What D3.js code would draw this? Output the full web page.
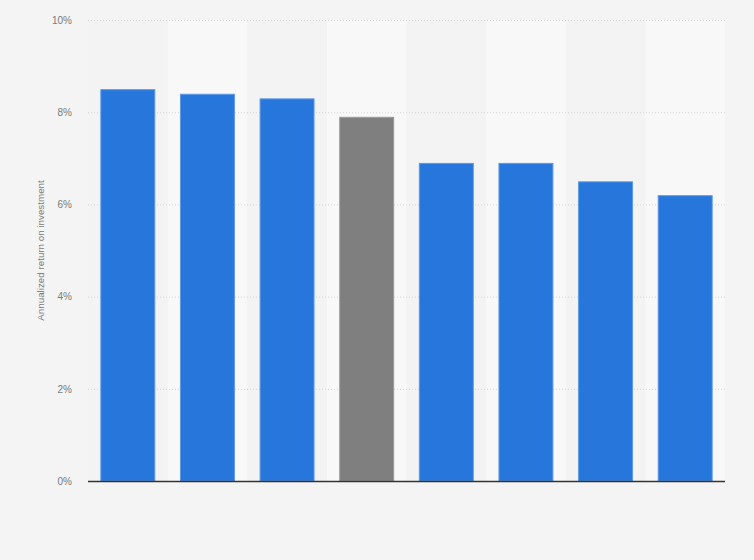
<!DOCTYPE html>
<html>
<head>
<meta charset="utf-8">
<script src="https://cdn.jsdelivr.net/npm/d3@7"></script>
<style>
    body { margin: 0; background: #f4f4f4; }
    svg { display: block; font-family: "Liberation Sans", Arial, sans-serif; }
</style>
</head>
<body>
<div class="article"></div>
<script>
// chart data
var categories = ["A", "B", "C", "D", "E", "F", "G", "H"];
var returns = [8.5, 8.4, 8.3, 7.9, 6.9, 6.9, 6.5, 6.2];
var highlighted = [false, false, false, true, false, false, false, false];
var yTicks = [0, 2, 4, 6, 8, 10];

function buildBars() {
    var svgWidth = 754;
    var svgHeight = 560;
    var margin = { top: 20, right: 29, bottom: 79, left: 88 };

    var chartWidth = svgWidth - margin.left - margin.right;
    var chartHeight = svgHeight - margin.top - margin.bottom;

    var data = categories.map((c, i) => ({ cat: c, value: returns[i], hl: highlighted[i] }));

    var svg = d3.select(".article").append("svg")
        .attr("width", svgWidth)
        .attr("height", svgHeight);

    svg.append("rect")
        .attr("width", svgWidth)
        .attr("height", svgHeight)
        .attr("fill", "#f4f4f4");

    var chartGroup = svg.append("g")
        .attr("transform", `translate(${margin.left}, ${margin.top})`);

    var xScale = d3.scaleBand()
        .domain(categories)
        .range([0, chartWidth])
        .paddingInner(0.31)
        .paddingOuter(0.155);

    var yScale = d3.scaleLinear()
        .domain([0, 10])
        .range([chartHeight, 0]);

    // alternating column bands
    var step = xScale.step();
    chartGroup.append("g")
        .selectAll("rect")
        .data(data)
        .enter()
        .append("rect")
        .attr("x", d => xScale(d.cat) - xScale.paddingInner() * step / 2)
        .attr("y", 0)
        .attr("width", step)
        .attr("height", chartHeight)
        .attr("fill", (d, i) => i % 2 ? "#f8f8f8" : "#f3f3f3");

    // dotted grid
    chartGroup.append("g")
        .selectAll("line")
        .data(yTicks.filter(t => t > 0))
        .enter()
        .append("line")
        .attr("x1", 0)
        .attr("x2", chartWidth)
        .attr("y1", d => yScale(d) + 0.5)
        .attr("y2", d => yScale(d) + 0.5)
        .attr("stroke", "#d4d4d4")
        .attr("stroke-dasharray", "1,2");

    // y axis tick labels
    var yAxis = d3.axisLeft(yScale)
        .tickValues(yTicks)
        .tickFormat(d => d + "%")
        .tickSize(0)
        .tickPadding(16);

    var yAxisGroup = chartGroup.append("g").call(yAxis);
    yAxisGroup.select(".domain").remove();
    yAxisGroup.selectAll("text")
        .attr("fill", "#7a7a7a")
        .attr("font-size", 10)
        .attr("font-family", "Liberation Sans, Arial, sans-serif");

    // bars
    chartGroup.append("g")
        .selectAll("rect")
        .data(data)
        .enter()
        .append("rect")
        .attr("x", d => xScale(d.cat) + 0.5)
        .attr("y", d => yScale(d.value) + 0.5)
        .attr("width", xScale.bandwidth() - 1)
        .attr("height", d => chartHeight - yScale(d.value) - 0.5)
        .attr("fill", d => d.hl ? "#7f7f7f" : "#2776db")
        .attr("stroke", d => d.hl ? "#9a9a9a" : "#5b98e6")
        .attr("stroke-width", 1);

    // baseline
    chartGroup.append("line")
        .attr("x1", 0)
        .attr("x2", chartWidth)
        .attr("y1", chartHeight + 0.5)
        .attr("y2", chartHeight + 0.5)
        .attr("stroke", "#333")
        .attr("stroke-width", 1.5);

    // axis label
    chartGroup.append("text")
        .attr("transform", "rotate(-90)")
        .attr("x", -chartHeight / 2)
        .attr("y", 44 - margin.left)
        .attr("text-anchor", "middle")
        .attr("fill", "#7a7a7a")
        .attr("font-size", 9.8)
        .text("Annualized return on investment");
}

buildBars();
</script>
</body>
</html>
